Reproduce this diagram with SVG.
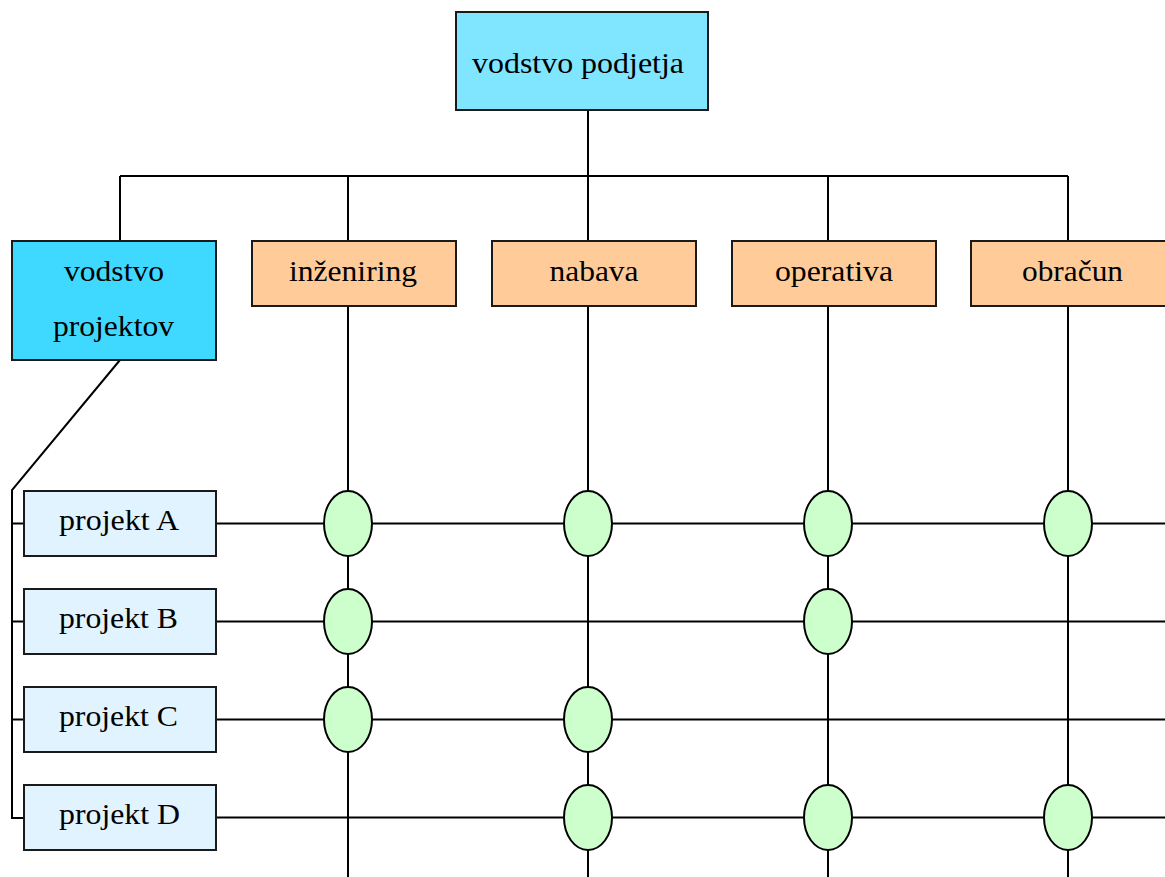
<svg xmlns="http://www.w3.org/2000/svg" width="1165" height="877" viewBox="0 0 1165 877">
<style>
.ln{stroke:#000;stroke-width:2;fill:none}
.box{stroke:#1a1a1a;stroke-width:2}
.top{fill:#80E5FF}
.vp{fill:#3FD9FF}
.dep{fill:#FFCC99}
.prj{fill:#E1F3FF}
.el{fill:#CCFFCC;stroke:#000;stroke-width:2}
text{font-family:'Liberation Serif','Times New Roman',Times,serif;font-size:30px;fill:#000}
</style>
<rect width="1165" height="877" fill="#fff"/>
<g id="connectors">
<path class="ln" d="M588 110V176M120 176H1068M120 176V241M348 176V241M588 176V241M828 176V241M1068 176V241"/>
<path class="ln" d="M348 306V877M588 306V877M828 306V877M1068 306V877"/>
<path class="ln" d="M120 360L12 490V818H24M12 523.5H24M12 621.5H24M12 719.5H24"/>
<path class="ln" d="M216 523.5H1165M216 621.5H1165M216 719.5H1165M216 817.5H1165"/>
</g>
<g id="vodstvo-podjetja"><rect class="box top" x="456" y="12" width="252" height="98"/><text x="472" y="73" textLength="212" lengthAdjust="spacingAndGlyphs">vodstvo podjetja</text></g>
<g id="vodstvo-projektov"><rect class="box vp" x="12" y="241" width="204" height="119"/><text x="64" y="281" textLength="100" lengthAdjust="spacingAndGlyphs">vodstvo</text><text x="53" y="336" textLength="121" lengthAdjust="spacingAndGlyphs">projektov</text></g>
<g id="inzeniring"><rect class="box dep" x="252" y="241" width="204" height="65"/><text x="289" y="281" textLength="128" lengthAdjust="spacingAndGlyphs">inženiring</text></g>
<g id="nabava"><rect class="box dep" x="492" y="241" width="204" height="65"/><text x="549.5" y="281" textLength="89" lengthAdjust="spacingAndGlyphs">nabava</text></g>
<g id="operativa"><rect class="box dep" x="732" y="241" width="204" height="65"/><text x="775" y="281" textLength="118" lengthAdjust="spacingAndGlyphs">operativa</text></g>
<g id="obracun"><rect class="box dep" x="971" y="241" width="204" height="65"/><text x="1022" y="281" textLength="101" lengthAdjust="spacingAndGlyphs">obračun</text></g>
<g id="projekt-a"><rect class="box prj" x="24" y="491" width="192" height="65"/><text x="59" y="530" textLength="120" lengthAdjust="spacingAndGlyphs">projekt A</text></g>
<g id="projekt-b"><rect class="box prj" x="24" y="589" width="192" height="65"/><text x="59" y="628" textLength="119" lengthAdjust="spacingAndGlyphs">projekt B</text></g>
<g id="projekt-c"><rect class="box prj" x="24" y="687" width="192" height="65"/><text x="59" y="726" textLength="119" lengthAdjust="spacingAndGlyphs">projekt C</text></g>
<g id="projekt-d"><rect class="box prj" x="24" y="785" width="192" height="65"/><text x="59" y="824" textLength="121" lengthAdjust="spacingAndGlyphs">projekt D</text></g>
<g id="nodes-a">
<ellipse class="el" cx="348" cy="523.5" rx="24" ry="32.5"/><ellipse class="el" cx="588" cy="523.5" rx="24" ry="32.5"/><ellipse class="el" cx="828" cy="523.5" rx="24" ry="32.5"/><ellipse class="el" cx="1068" cy="523.5" rx="24" ry="32.5"/>
</g>
<g id="nodes-b">
<ellipse class="el" cx="348" cy="621.5" rx="24" ry="32.5"/><ellipse class="el" cx="828" cy="621.5" rx="24" ry="32.5"/>
</g>
<g id="nodes-c">
<ellipse class="el" cx="348" cy="719.5" rx="24" ry="32.5"/><ellipse class="el" cx="588" cy="719.5" rx="24" ry="32.5"/>
</g>
<g id="nodes-d">
<ellipse class="el" cx="588" cy="817.5" rx="24" ry="32.5"/><ellipse class="el" cx="828" cy="817.5" rx="24" ry="32.5"/><ellipse class="el" cx="1068" cy="817.5" rx="24" ry="32.5"/>
</g>
</svg>
